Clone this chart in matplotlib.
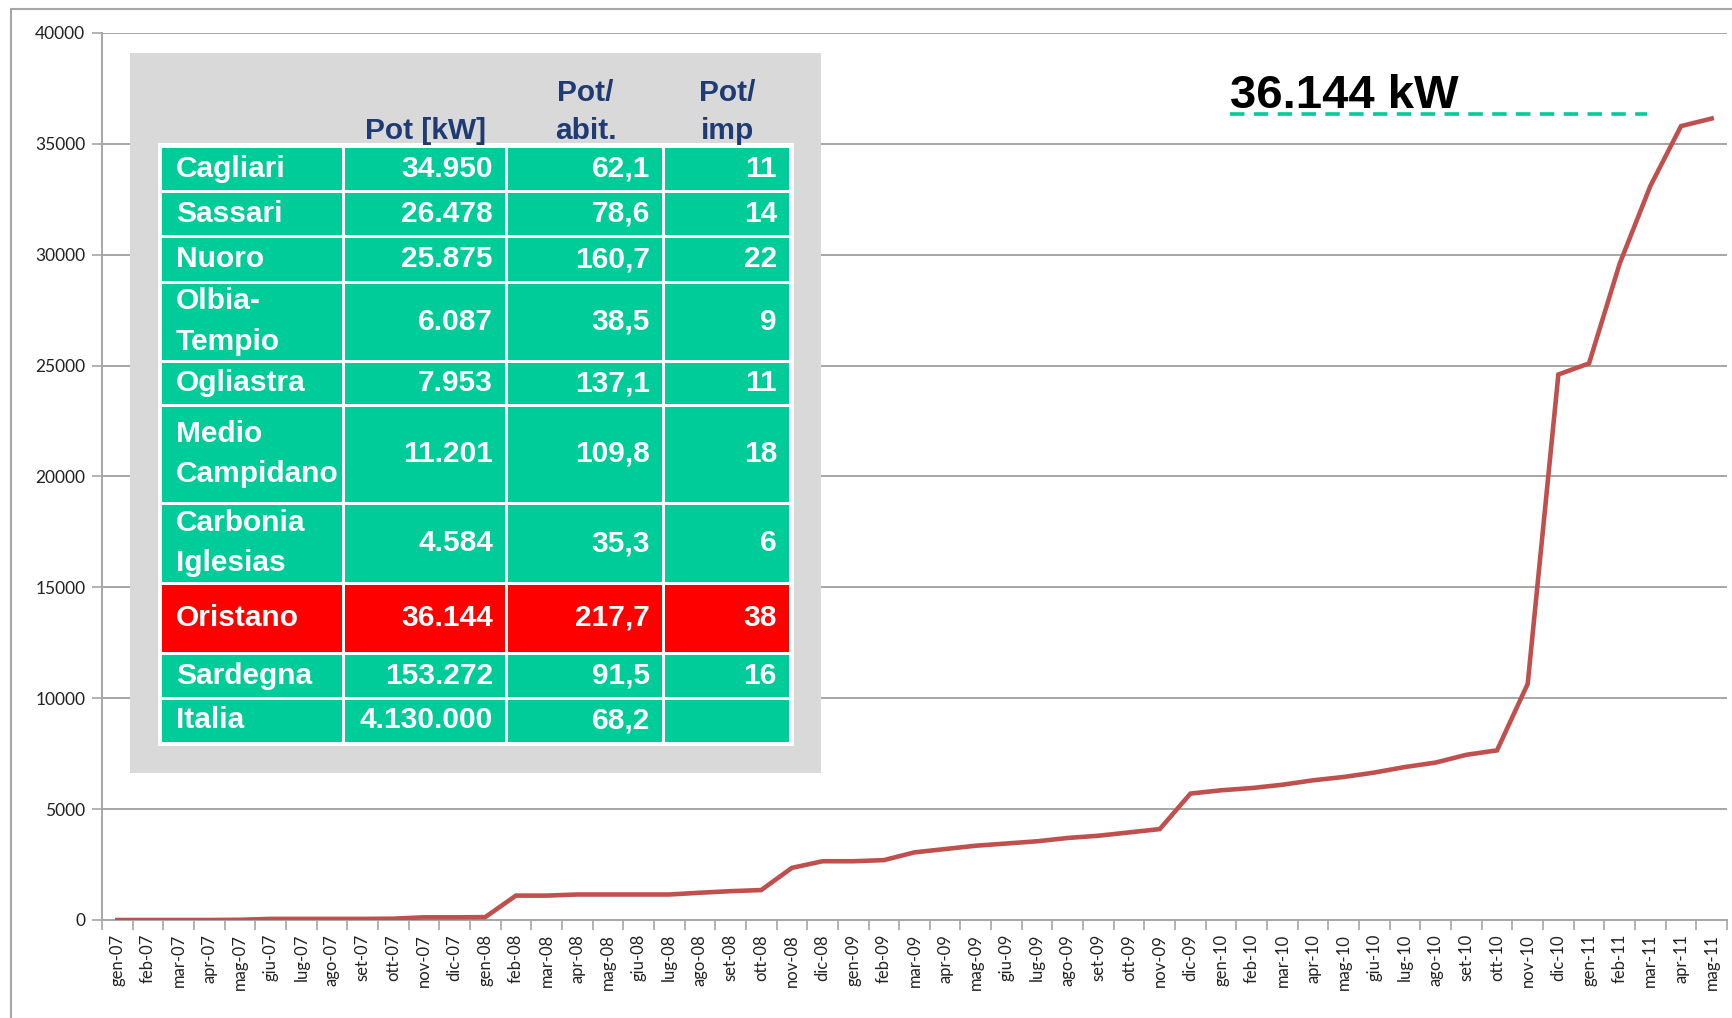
import numpy as np
import matplotlib
matplotlib.use("Agg")
import matplotlib.pyplot as plt
from matplotlib.patches import Rectangle
from matplotlib.transforms import blended_transform_factory, offset_copy

plt.rcParams['font.family'] = ['Liberation Sans', 'DejaVu Sans']

# monthly cumulative installed power, Oristano [kW]
months = ["gen", "feb", "mar", "apr", "mag", "giu",
          "lug", "ago", "set", "ott", "nov", "dic"]
month_labels = [f"{m}-{y:02d}" for y in range(7, 12) for m in months][:53]
power_kw = [
    0, 0, 0, 0, 10, 50, 50, 50, 50, 60, 120, 120,            # 2007
    130, 1100, 1100, 1150, 1150, 1150, 1150, 1230, 1300, 1350, 2350, 2650,  # 2008
    2650, 2700, 3050, 3200, 3350, 3450, 3550, 3700, 3800, 3950, 4100, 5700,  # 2009
    5850, 5950, 6100, 6300, 6450, 6650, 6900, 7100, 7450, 7650, 10650, 24600,  # 2010
    25100, 29600, 33100, 35800, 36144,                        # 2011
]
y_ticks = [0, 5000, 10000, 15000, 20000, 25000, 30000, 35000, 40000]

# table data
tab_header = ["", "Pot [kW]", "Pot/\nabit.", "Pot/\nimp"]
tab_names = ["Cagliari", "Sassari", "Nuoro", "Olbia-\nTempio", "Ogliastra",
             "Medio\nCampidano", "Carbonia\nIglesias", "Oristano",
             "Sardegna", "Italia"]
tab_pot = ["34.950", "26.478", "25.875", "6.087", "7.953", "11.201",
           "4.584", "36.144", "153.272", "4.130.000"]
tab_abit = ["62,1", "78,6", "160,7", "38,5", "137,1", "109,8",
            "35,3", "217,7", "91,5", "68,2"]
tab_imp = ["11", "14", "22", "9", "11", "18", "6", "38", "16", ""]
highlight = "Oristano"
total_label = "36.144 kW"

W, H = 1733, 1018
fig = plt.figure(figsize=(W / 100, H / 100), dpi=100)

# outer chart frame
fig.patches.append(Rectangle((11 / W, -0.05), 1.2, 1 - 9 / H + 0.05,
                             transform=fig.transFigure, fill=False,
                             ec="#A6A6A6", lw=1.5, zorder=0))

ax = fig.add_axes([102 / W, (H - 920) / H, (1727 - 102) / W, (920 - 33) / H])
x = np.arange(len(power_kw))
ax.plot(x, power_kw, color="#C0504D", lw=3.3, solid_joinstyle="miter", zorder=3)

ax.set_xlim(-0.5, len(power_kw) - 0.5)
ax.set_ylim(0, 40000)
ax.set_yticks(y_ticks)
ax.set_yticklabels([str(v) for v in y_ticks], fontsize=12.5, color="#222222",
                   family=["Lato", "DejaVu Sans"])
ax.yaxis.grid(True, color="#A6A6A6", lw=1.4)
ax.set_axisbelow(True)

# category axis: ticks between months, labels at the month centres
ax.set_xticks(np.arange(-0.5, len(power_kw)), labels=[])
ax.set_xticks(x, labels=month_labels, minor=True)
ax.tick_params(axis="x", which="major", length=7, width=1.2, color="#A6A6A6")
ax.tick_params(axis="x", which="minor", length=0, pad=10, labelrotation=90,
               labelsize=12, labelcolor="#222222")
for lab in ax.get_xticklabels(minor=True):
    lab.set_family(["Lato", "DejaVu Sans"])
    lab.set_va("top")
ax.tick_params(axis="y", length=7, width=1.2, color="#A6A6A6", pad=5)
for s in ["top", "right"]:
    ax.spines[s].set_visible(False)
for s in ["left", "bottom"]:
    ax.spines[s].set_color("#A6A6A6")
    ax.spines[s].set_linewidth(1.4)

# total annotation with dashed guide (sits a few pixels above the last value)
tr = offset_copy(blended_transform_factory(ax.transAxes, ax.transData),
                 fig=fig, y=5, units="dots")
ax.plot([0.694, 0.951], [power_kw[-1], power_kw[-1]], transform=tr,
        color="#00CC99", lw=2.6, dashes=(4, 2.6), zorder=2)
ax.text(0.694, power_kw[-1] + 250, total_label, transform=tr, fontsize=34,
        fontweight="bold", color="black", ha="left", va="baseline")

# table overlay, drawn in pixel coordinates
ov = fig.add_axes([0, 0, 1, 1], zorder=5)
ov.set_xlim(0, W)
ov.set_ylim(H, 0)
ov.axis("off")

ov.add_patch(Rectangle((130, 53), 821 - 130, 773 - 53, fc="#D9D9D9", ec="none"))
col_edges = [161, 344, 507, 664, 791]
row_h = [45, 45, 46, 79, 44, 98, 80, 70, 45, 45]
top = 146
ov.add_patch(Rectangle((col_edges[0] - 3, top - 3), col_edges[-1] - col_edges[0] + 6,
                       sum(row_h) + 6, fc="white", ec="none"))

hdr_color = "#1F3B73"
for j, h in enumerate(tab_header):
    if not h:
        continue
    cx = (col_edges[j] + col_edges[j + 1]) / 2
    ov.text(cx, top - 1, h, ha="center", va="bottom", fontsize=21.5,
            fontweight="bold", color=hdr_color, linespacing=1.45)

y0 = top
for i, name in enumerate(tab_names):
    h = row_h[i]
    fc = "#FF0000" if name == highlight else "#00CC99"
    cells = [name, tab_pot[i], tab_abit[i], tab_imp[i]]
    for j, txt in enumerate(cells):
        x0, x1 = col_edges[j], col_edges[j + 1]
        ov.add_patch(Rectangle((x0 + 1.5, y0 + 1.5), x1 - x0 - 3, h - 3,
                               fc=fc, ec="none"))
        if j == 0:
            ov.text(x0 + 15, y0 + h / 2, txt, ha="left", va="center",
                    fontsize=21.5, fontweight="bold", color="white",
                    linespacing=1.55)
        else:
            ov.text(x1 - 14, y0 + h / 2, txt, ha="right", va="center",
                    fontsize=21.5, fontweight="bold", color="white")
    y0 += h

fig.savefig("out.png", dpi=100)
